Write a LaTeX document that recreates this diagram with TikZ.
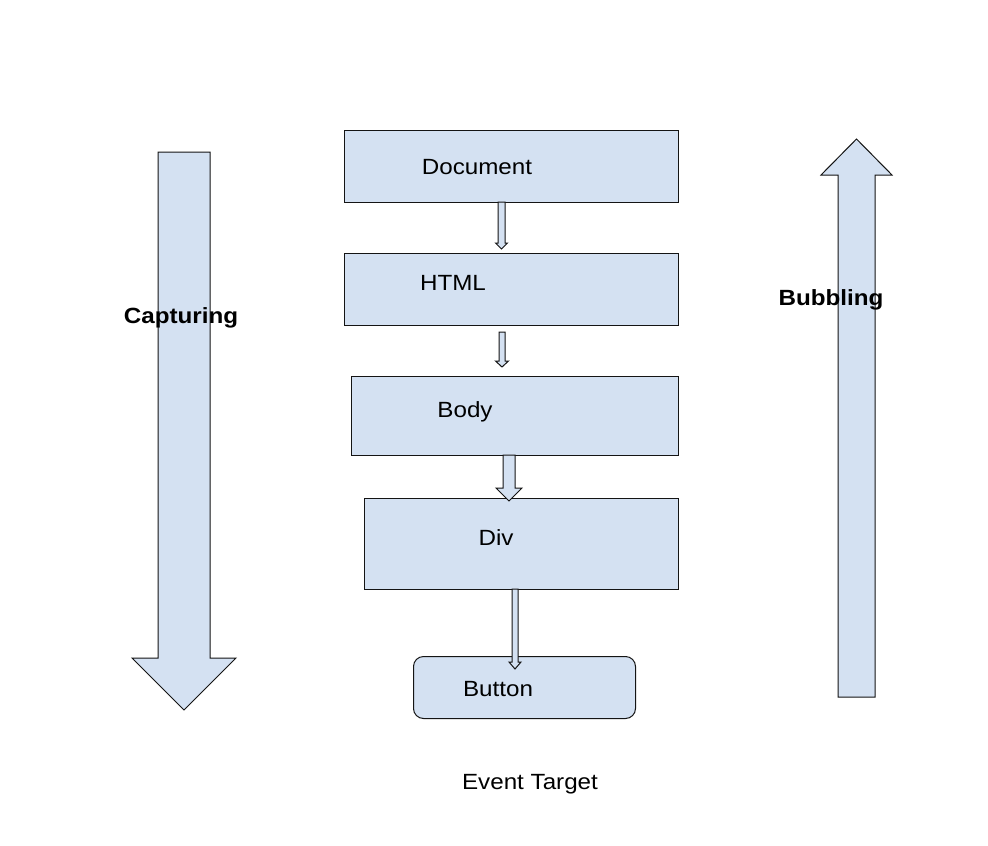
\documentclass[tikz,border=0pt]{standalone}
\usepackage{fontspec}
\setmainfont[FakeStretch=1.1]{Liberation Sans}
\definecolor{boxfill}{RGB}{212,225,242}
\definecolor{edge}{RGB}{20,20,20}
% down block arrow: shaft xl xr, top y, head hl hr, head start y, tip y
\newcommand\blockdown[7]{%
  \draw[shape arrow] (#1,#3) -- (#2,#3) -- (#2,#6) -- (#5,#6) -- ({(#4+#5)/2},#7) -- (#4,#6) -- (#1,#6) -- cycle;}
\begin{document}
\begin{tikzpicture}[x=1pt,y=-1pt,
  box/.style={draw=edge, fill=boxfill, line width=1pt, inner sep=0pt, anchor=north west},
  shape arrow/.style={draw=edge, fill=boxfill, line width=1pt, line join=miter},
  lbl/.style={anchor=base, inner sep=0pt, font=\fontsize{22}{26}\selectfont},
  blbl/.style={lbl, font=\fontsize{22}{26}\selectfont\bfseries}]
\useasboundingbox (0,0) rectangle (988,846);
\fill[white] (0,0) rectangle (988,846);

% big arrows
\draw[shape arrow] (158,152) -- (210,152) -- (210,658) -- (236,658) -- (184,710) -- (132,658) -- (158,658) -- cycle;
\draw[shape arrow] (838,697) -- (875,697) -- (875,175) -- (892,175) -- (856.5,139) -- (821,175) -- (838,175) -- cycle;
\node[blbl] (cap) at (181,323) {Capturing};
\node[blbl] (bub) at (831,305) {Bubbling};

% boxes
\node[box, minimum width=334pt, minimum height=72pt] (doc) at (344,130) {};
\node[box, minimum width=334pt, minimum height=72pt] (html) at (344,253) {};
\node[box, minimum width=327pt, minimum height=79pt] (body) at (351,376) {};
\node[box, minimum width=314pt, minimum height=91pt] (div) at (364,498) {};
\node[box, rounded corners=10pt, minimum width=222pt, minimum height=62pt] (btn) at (413,656) {};

% small arrows
\blockdown{498}{505}{202}{495.5}{507.5}{243}{249}
\blockdown{499}{505}{332}{495.5}{508.5}{361}{367}
\blockdown{503}{515}{455}{496}{522}{488}{501}
\blockdown{512}{518}{589}{509}{521}{662}{669}

\node[lbl] (docl) at (477,174) {Document};
\node[lbl] (htmll) at (453,290) {HTML};
\node[lbl] (bodyl) at (465,417) {Body};
\node[lbl] (divl) at (496,545) {Div};
\node[lbl] (btnl) at (498,696) {Button};
\node[lbl] (evt) at (530,789) {Event Target};
\end{tikzpicture}
\end{document}
